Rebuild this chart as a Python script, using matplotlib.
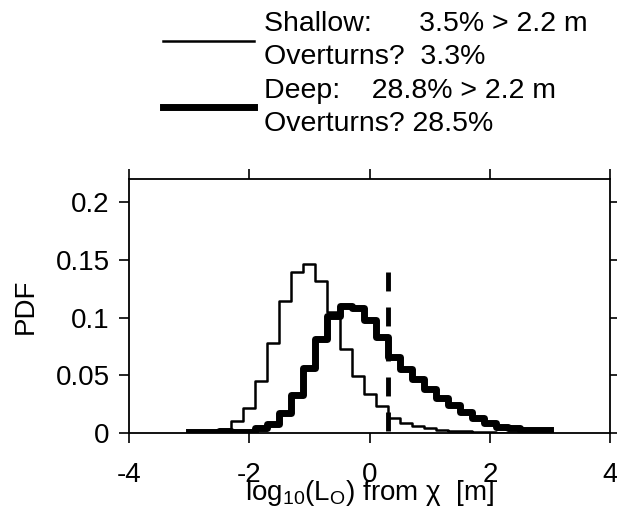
import matplotlib
matplotlib.use("Agg")
from matplotlib import pyplot as plt
from matplotlib import rcParams as mplParams
import matplotlib.ticker as plticker

mplParams["font.family"] = "Liberation Sans"
mplParams["mathtext.default"] = "regular"
mplParams["axes.unicode_minus"] = False

# bin centres, log10(L_O) [m]
bin_centres = [-3.0, -2.8, -2.6, -2.4, -2.2, -2.0, -1.8, -1.6, -1.4, -1.2, -1.0,
               -0.8, -0.6, -0.4, -0.2, 0.0, 0.2, 0.4, 0.6, 0.8, 1.0,
               1.2, 1.4, 1.6, 1.8, 2.0, 2.2, 2.4, 2.6, 2.8, 3.0]

pdf_shallow = [0.002, 0.002, 0.002, 0.003, 0.010, 0.022, 0.045, 0.078, 0.114, 0.139, 0.146,
               0.132, 0.105, 0.073, 0.049, 0.034, 0.023, 0.013, 0.009, 0.006, 0.004,
               0.0026, 0.002, 0.0015, 0.001, 0.0007, 0.0004, 0.0002, 0.0001, 0.0, 0.0]

pdf_deep = [0.001, 0.001, 0.001, 0.002, 0.0005, 0.001, 0.004, 0.008, 0.017, 0.033, 0.056,
            0.081, 0.101, 0.110, 0.108, 0.098, 0.083, 0.066, 0.055, 0.047, 0.038,
            0.030, 0.024, 0.0185, 0.013, 0.0084, 0.0055, 0.004, 0.003, 0.0026, 0.0026]

threshold_x = 0.3
threshold_top = 0.139

label_shallow = "Shallow:      3.5% > 2.2 m\nOverturns?  3.3%"
label_deep = "Deep:    28.8% > 2.2 m\nOverturns? 28.5%"

xticks = [-4, -2, 0, 2, 4]
yticks = [0, 0.05, 0.1, 0.15, 0.2]


fig = plt.figure(figsize=(6.17, 5.23), dpi=100)
ax = fig.add_axes([0.209, 0.172, 0.780, 0.486])

h1, = ax.step(bin_centres, pdf_shallow, where="mid", color="k", lw=1.8)
h2, = ax.step(bin_centres, pdf_deep, where="mid", color="k", lw=5)
ax.plot([threshold_x, threshold_x], [threshold_top, 0], color="k", lw=3.5,
        linestyle=(0, (3.9, 3.3)), solid_capstyle="butt", dash_capstyle="butt")

ax.set_xlim(-4, 4)
ax.set_ylim(0, 0.22)
ax.set_xticks(xticks)
ax.set_yticks(yticks)
ax.yaxis.set_major_formatter(plticker.FormatStrFormatter("%g"))

for sp in ax.spines.values():
    sp.set_linewidth(1.3)
ax.tick_params(direction="out", length=7, width=1.2, top=True, right=True,
               labelsize=20)
ax.tick_params(axis="x", pad=14)
ax.tick_params(axis="y", pad=7)

ax.set_ylabel("PDF", fontsize=20, labelpad=12)
ax.set_xlabel(r"log$_{10}$(L$_O$) from $\chi$  [m]", fontsize=20, labelpad=-7)

leg = ax.legend([h1, h2], [label_shallow, label_deep], loc="upper left",
                bbox_to_anchor=(163 / 617, 1 - 11 / 523), bbox_transform=fig.transFigure,
                frameon=False, fontsize=20.5, borderpad=0, borderaxespad=0,
                handlelength=3.2, handletextpad=0.35, labelspacing=0.25)
for t in leg.get_texts():
    t.set_linespacing(1.37)

fig.savefig("out.png", dpi=100)
